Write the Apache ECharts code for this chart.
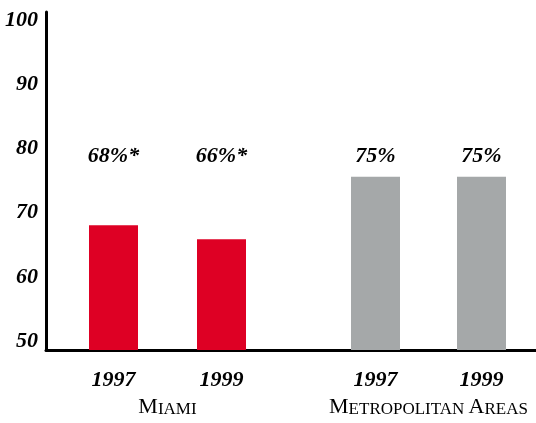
<!DOCTYPE html>
<html>
<head>
<meta charset="utf-8">
<script src="https://cdn.jsdelivr.net/npm/echarts@6/dist/echarts.min.js"></script>
<style>
  html, body { margin: 0; padding: 0; background: #fff; }
  #chart { width: 536px; height: 423px; }
</style>
</head>
<body>
<div id="chart"></div>
<script>
// Share of respondents, by area and survey year
const years = ['1997', '1999'];
const miamiValues = [68, 66];
const miamiNotes = ['*', '*'];
const metroValues = [75, 75];
const metroNotes = ['', ''];
const yTicks = [50, 60, 70, 80, 90, 100];

const RED = '#DE0024';
const GRAY = '#A5A8A9';
const INK = '#000';
const SERIF = '"Liberation Serif", "DejaVu Serif", serif';
const LABEL_LEVEL = 78; // height at which the percentage captions sit

const bottomPx = 73, topPx = 12;

const italicBold = {
  color: INK, fontFamily: SERIF, fontStyle: 'italic',
  fontWeight: 'bold', fontSize: 22
};

function groupAxis(gridIndex, name) {
  return {
    type: 'category', gridIndex, data: years,
    axisLine: { show: false }, axisTick: { show: false },
    axisLabel: Object.assign({ margin: 19 }, italicBold),
    name, nameLocation: 'middle', nameGap: 42,
    nameTextStyle: {
      color: INK,
      rich: {
        c: { fontFamily: SERIF, fontSize: 22, color: INK, verticalAlign: 'bottom', lineHeight: 24 },
        s: { fontFamily: SERIF, fontSize: 17, color: INK, verticalAlign: 'bottom', lineHeight: 24 }
      }
    }
  };
}

function valueAxis(gridIndex) {
  return { type: 'value', gridIndex, min: 50, max: 98.8, show: false };
}

function barSeries(gridIndex, values, color) {
  return {
    type: 'bar', xAxisIndex: gridIndex, yAxisIndex: gridIndex,
    data: values, barWidth: 49, itemStyle: { color },
    silent: true, animation: false
  };
}

function captionSeries(gridIndex, values, notes) {
  return {
    type: 'scatter', xAxisIndex: gridIndex, yAxisIndex: gridIndex,
    data: values.map(() => LABEL_LEVEL), symbolSize: 0,
    itemStyle: { opacity: 1 },
    silent: true, animation: false,
    label: Object.assign({
      show: true, position: 'inside',
      formatter: p => values[p.dataIndex] + '%' + notes[p.dataIndex]
    }, italicBold)
  };
}

const chart = echarts.init(document.getElementById('chart'), null, { renderer: 'canvas' });
chart.setOption({
  backgroundColor: '#fff',
  animation: false,
  grid: [
    { left: 46, right: 0, top: topPx, bottom: bottomPx },          // frame with tick labels
    { left: 59.5, width: 216, top: topPx, bottom: bottomPx },      // Miami
    { left: 322.5, width: 212, top: topPx, bottom: bottomPx }      // Metropolitan areas
  ],
  xAxis: [
    {
      type: 'value', gridIndex: 0, min: 0, max: 1,
      axisLine: { show: true, lineStyle: { color: '#000', width: 3 } },
      axisTick: { show: false }, axisLabel: { show: false }, splitLine: { show: false }
    },
    groupAxis(1, '{c|M}{s|IAMI}'),
    groupAxis(2, '{c|M}{s|ETROPOLITAN }{c|A}{s|REAS}')
  ],
  yAxis: [
    {
      type: 'value', gridIndex: 0, min: 48.6, max: 101.25,
      axisLine: { show: true, lineStyle: { color: '#000', width: 3 } },
      axisTick: { show: false }, splitLine: { show: false },
      axisLabel: Object.assign({ customValues: yTicks, margin: 8 }, italicBold)
    },
    valueAxis(1),
    valueAxis(2)
  ],
  series: [
    barSeries(1, miamiValues, RED),
    barSeries(2, metroValues, GRAY),
    captionSeries(1, miamiValues, miamiNotes),
    captionSeries(2, metroValues, metroNotes)
  ]
});
</script>
</body>
</html>
